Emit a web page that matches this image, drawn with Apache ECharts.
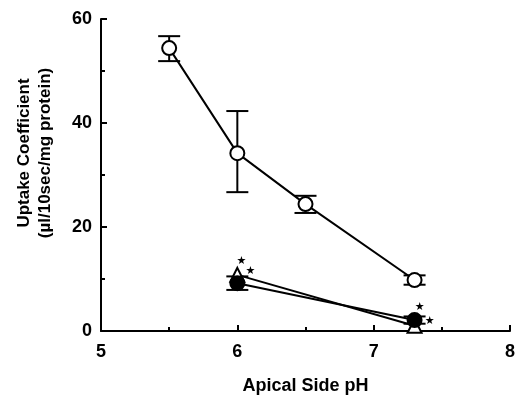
<!DOCTYPE html>
<html><head><meta charset="utf-8">
<script src="https://cdn.jsdelivr.net/npm/echarts@6/dist/echarts.min.js"></script>
<style>html,body{margin:0;padding:0;background:#fff}#c{width:517px;height:395px}</style>
</head><body><div id="c"></div>
<script>
const xOpen = [5.5, 6, 6.5, 7.3];
const yOpen = [54.4, 34.2, 24.4, 9.8];
const errOpenLow = [51.9, 26.7, 22.7, 8.9];
const errOpenHigh = [56.7, 42.3, 26.0, 10.7];
const xTri = [6, 7.3];
const yTri = [10.8, 1.0];
const xFilled = [6, 7.3];
const yFilled = [9.2, 2.1];
const errFilledLow = [7.9, 1.4];
const errFilledHigh = [10.5, 2.8];
const sigMark = '\u2605';

const chart = echarts.init(document.getElementById('c'));
const F = '"Liberation Sans", Arial, sans-serif';
function errSeries(xs, lo, hi) {
  return {
    type: 'custom', z: 1,
    data: xs.map((x, i) => [x, lo[i], hi[i]]),
    renderItem: function (params, api) {
      const x = api.value(0);
      const p1 = api.coord([x, api.value(1)]);
      const p2 = api.coord([x, api.value(2)]);
      const w = 11;
      const st = { stroke: '#000', lineWidth: 2 };
      return { type: 'group', children: [
        { type: 'line', shape: { x1: p1[0], y1: p1[1], x2: p2[0], y2: p2[1] }, style: st },
        { type: 'line', shape: { x1: p1[0] - w, y1: p1[1], x2: p1[0] + w, y2: p1[1] }, style: st },
        { type: 'line', shape: { x1: p2[0] - w, y1: p2[1], x2: p2[0] + w, y2: p2[1] }, style: st }
      ]};
    }
  };
}
const starLabel = (pos) => ({ show: true, formatter: sigMark, position: pos, align: 'center', verticalAlign: 'middle',
  color: '#000', fontSize: 11, fontFamily: '"DejaVu Sans", sans-serif' });
const triOffsets = [[12, -6], [13, -11]];
const filledOffsets = [[21, -4], [23, 9]];
chart.setOption({
  animation: false,
  grid: { left: 101, right: 7, top: 19, bottom: 64, containLabel: false, outerBoundsMode: 'none' },
  xAxis: {
    type: 'value', min: 5, max: 8, interval: 1,
    axisLine: { lineStyle: { color: '#000', width: 2 } },
    axisTick: { inside: true, length: 6, lineStyle: { color: '#000', width: 2 } },
    minorTick: { show: true, splitNumber: 2, length: 4, lineStyle: { color: '#000', width: 2 } },
    splitLine: { show: false },
    axisLabel: { color: '#000', fontSize: 18, fontWeight: 'bold', fontFamily: F, margin: 12 },
    name: 'Apical Side pH', nameLocation: 'middle', nameGap: 46,
    nameTextStyle: { color: '#000', fontSize: 18, fontWeight: 'bold', fontFamily: F }
  },
  yAxis: {
    type: 'value', min: 0, max: 60, interval: 20,
    axisLine: { lineStyle: { color: '#000', width: 2 } },
    axisTick: { inside: true, length: 6, lineStyle: { color: '#000', width: 2 } },
    minorTick: { show: true, splitNumber: 2, length: 4, lineStyle: { color: '#000', width: 2 } },
    splitLine: { show: false },
    axisLabel: { color: '#000', fontSize: 18, fontWeight: 'bold', fontFamily: F, margin: 9 }
  },
  graphic: [
    { type: 'text', x: 24, y: 153, rotation: Math.PI / 2,
      style: { text: 'Uptake Coefficient', fill: '#000', font: 'bold 17px ' + F, textAlign: 'center', textVerticalAlign: 'middle' } },
    { type: 'text', x: 45, y: 153, rotation: Math.PI / 2,
      style: { text: '(\u00b5l/10sec/mg protein)', fill: '#000', font: 'bold 17px ' + F, textAlign: 'center', textVerticalAlign: 'middle' } }
  ],
  series: [
    errSeries(xOpen, errOpenLow, errOpenHigh),
    errSeries(xFilled, errFilledLow, errFilledHigh),
    { type: 'line', z: 3, data: xOpen.map((x, i) => [x, yOpen[i]]),
      symbol: 'circle', symbolSize: 14, showAllSymbol: true,
      lineStyle: { color: '#000', width: 2 },
      itemStyle: { color: '#fff', borderColor: '#000', borderWidth: 2 } },
    { type: 'line', z: 3, data: xTri.map((x, i) => ({ value: [x, yTri[i]], label: starLabel(triOffsets[i]) })),
      symbol: 'triangle', symbolSize: 14,
      lineStyle: { color: '#000', width: 2 },
      itemStyle: { color: '#fff', borderColor: '#000', borderWidth: 2 } },
    { type: 'line', z: 4, data: xFilled.map((x, i) => ({ value: [x, yFilled[i]], label: starLabel(filledOffsets[i]) })),
      symbol: 'circle', symbolSize: 14,
      lineStyle: { color: '#000', width: 2 },
      itemStyle: { color: '#000', borderColor: '#000', borderWidth: 2 } }
  ]
});
</script></body></html>
